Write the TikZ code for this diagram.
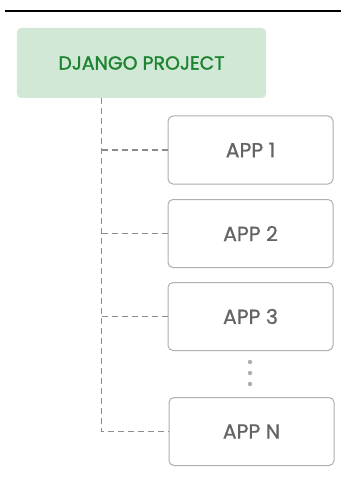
\documentclass[tikz,border=0pt]{standalone}
\usepackage{fontspec}
\setmainfont{Poppins}[FakeBold=0.8]
\newfontfamily\projfont{Poppins}[FakeBold=1.6]
\usepackage{tikz}

\definecolor{projfill}{RGB}{210,232,214}
\definecolor{projtext}{RGB}{28,132,48}
\definecolor{appline}{RGB}{175,175,175}
\definecolor{apptext}{RGB}{100,100,100}
\definecolor{linkgray}{RGB}{140,140,140}

\tikzset{
  project/.style={fill=projfill, rounded corners=4bp, minimum width=249bp,
                  minimum height=70bp, text=projtext,
                  font=\projfont\fontsize{19}{22}\selectfont},
  app/.style={draw=appline, line width=1bp, fill=white, rounded corners=5bp,
              minimum width=165bp, minimum height=68bp, text=apptext,
              font=\fontsize{20.5}{24}\selectfont},
  link/.style={draw=linkgray, line width=1.9bp, dash pattern=on 6bp off 4bp},
  dot/.style={circle, fill=appline, inner sep=0pt, minimum size=4.5bp}
}

\begin{document}
\begin{tikzpicture}[x=1bp,y=-1bp]
\useasboundingbox (0,0) rectangle (341,477);
\draw[line width=1.5bp] (5,11) -- (341,11);
\node[project] (proj) at (141.5,63) {DJANGO PROJECT};
\node[app] (app1) at (250.5,150) {APP 1};
\node[app] (app2) at (250.5,233.5) {APP 2};
\node[app] (app3) at (250.5,316.5) {APP 3};
\node[app] (appn) at (251.5,431.5) {APP N};
\node[dot] (dotA) at (250,362) {};
\node[dot] (dotB) at (250,373) {};
\node[dot] (dotC) at (250,384) {};
\coordinate (trunk) at (101.5,98);
\draw[link] (trunk) |- (appn.west);
\foreach \a in {app1,app2,app3}
  \draw[link] (trunk |- \a.west) -- (\a.west);
\end{tikzpicture}
\end{document}
